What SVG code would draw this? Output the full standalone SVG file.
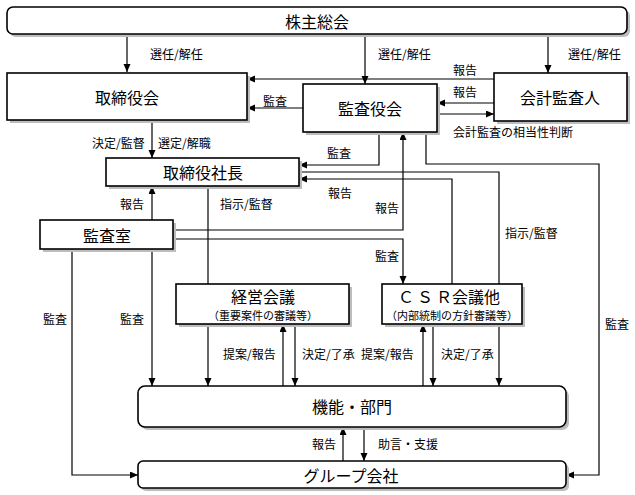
<svg xmlns="http://www.w3.org/2000/svg" width="635" height="495" viewBox="0 0 635 495">
<defs>
<marker id="ah" markerUnits="userSpaceOnUse" markerWidth="9" markerHeight="8" refX="8" refY="3.5" orient="auto">
<path d="M0,0 L8,3.5 L0,7 z" fill="#000"/>
</marker>
<style>
.sh{fill:#bdbdbd;stroke:none}
.bx{fill:#fff;stroke:#000;stroke-width:1.6}
.n{font-family:"Noto Sans CJK JP","Noto Sans",sans-serif;font-size:16px;fill:#000;text-anchor:middle;dominant-baseline:central}
.s{font-family:"Noto Sans CJK JP","Noto Sans",sans-serif;font-size:11px;fill:#000;text-anchor:middle;dominant-baseline:central}
.l{font-family:"Noto Sans CJK JP","Noto Sans",sans-serif;font-size:12px;fill:#000;dominant-baseline:central}
.c{fill:none;stroke:#000;stroke-width:1.2}
.a{marker-end:url(#ah)}
</style>
</defs>
<rect width="635" height="495" fill="#fff"/>

<g id="connectors">
<path class="c a" d="M127,34 V72"/>
<path class="c a" d="M365,34 V84"/>
<path class="c a" d="M548,34 V73"/>
<path class="c a" d="M494,79 H247"/>
<path class="c a" d="M303,108 H247"/>
<path class="c a" d="M494,103 H437"/>
<path class="c a" d="M437,114 H494"/>
<path class="c a" d="M152,120 V158"/>
<path class="c a" d="M379,132 V165 H299"/>
<path class="c a" d="M426,132 V164 H599 V475 H566"/>
<path class="c" d="M208,186 V284"/>
<path class="c" d="M299,172 H499 V284"/>
<path class="c a" d="M452,284 V179 H299"/>
<path class="c a" d="M152,220 V186"/>
<path class="c a" d="M173,230 H403 V132"/>
<path class="c a" d="M173,239 H403 V284"/>
<path class="c a" d="M72,249 V475 H138"/>
<path class="c a" d="M152,249 V386"/>
<path class="c a" d="M208,324 V386"/>
<path class="c a" d="M283,386 V324"/>
<path class="c a" d="M295,324 V386"/>
<path class="c a" d="M423,386 V324"/>
<path class="c a" d="M433,324 V386"/>
<path class="c a" d="M499,324 V386"/>
<path class="c a" d="M343,461 V427"/>
<path class="c a" d="M364,427 V461"/>
</g>

<g id="labels">
<text class="l" x="150" y="53">選任/解任</text>
<text class="l" x="378" y="53">選任/解任</text>
<text class="l" x="568" y="53">選任/解任</text>
<text class="l" x="453" y="69">報告</text>
<text class="l" x="263" y="100">監査</text>
<text class="l" x="453" y="91">報告</text>
<text class="l" x="453" y="131">会計監査の相当性判断</text>
<text class="l" x="92" y="142">決定/監督</text>
<text class="l" x="158" y="142">選定/解職</text>
<text class="l" x="327" y="152">監査</text>
<text class="l" x="328" y="192">報告</text>
<text class="l" x="375" y="207">報告</text>
<text class="l" x="220" y="203">指示/監督</text>
<text class="l" x="120" y="203">報告</text>
<text class="l" x="375" y="255">監査</text>
<text class="l" x="505" y="232">指示/監督</text>
<text class="l" x="43" y="318">監査</text>
<text class="l" x="120" y="318">監査</text>
<text class="l" x="605" y="323">監査</text>
<text class="l" x="223" y="353">提案/報告</text>
<text class="l" x="302" y="353">決定/了承</text>
<text class="l" x="361" y="353">提案/報告</text>
<text class="l" x="441" y="353">決定/了承</text>
<text class="l" x="312" y="443">報告</text>
<text class="l" x="378" y="443">助言・支援</text>
</g>

<g id="shareholders">
<rect class="sh" x="10" y="10" width="620" height="27" rx="6"/>
<rect class="bx" x="7" y="7" width="620" height="27" rx="6"/>
<text class="n" x="317" y="21">株主総会</text>
</g>
<g id="board">
<rect class="sh" x="10" y="76" width="240" height="47"/>
<rect class="bx" x="7" y="73" width="240" height="47"/>
<text class="n" x="127" y="97">取締役会</text>
</g>
<g id="auditors">
<rect class="sh" x="306" y="87" width="134" height="48"/>
<rect class="bx" x="303" y="84" width="134" height="48"/>
<text class="n" x="370" y="108">監査役会</text>
</g>
<g id="accountant">
<rect class="sh" x="497" y="76" width="133" height="48"/>
<rect class="bx" x="494" y="73" width="133" height="48"/>
<text class="n" x="560" y="97">会計監査人</text>
</g>
<g id="president">
<rect class="sh" x="109" y="161" width="193" height="28"/>
<rect class="bx" x="106" y="158" width="193" height="28"/>
<text class="n" x="203" y="172">取締役社長</text>
</g>
<g id="audit-office">
<rect class="sh" x="43" y="223" width="133" height="29"/>
<rect class="bx" x="40" y="220" width="133" height="29"/>
<text class="n" x="107" y="235">監査室</text>
</g>
<g id="management">
<rect class="sh" x="179" y="287" width="173" height="40"/>
<rect class="bx" x="176" y="284" width="173" height="40"/>
<text class="n" x="263" y="296">経営会議</text>
<text class="s" x="263" y="315">（重要案件の審議等）</text>
</g>
<g id="csr">
<rect class="sh" x="385" y="287" width="140" height="40"/>
<rect class="bx" x="382" y="284" width="140" height="40"/>
<text class="n" x="449" y="296"><tspan letter-spacing="3">ＣＳ</tspan>Ｒ会議他</text>
<text class="s" x="452" y="315">（内部統制の方針審議等）</text>
</g>
<g id="departments">
<rect class="sh" x="141" y="389" width="428" height="41" rx="7"/>
<rect class="bx" x="138" y="386" width="428" height="41" rx="7"/>
<text class="n" x="352" y="406">機能・部門</text>
</g>
<g id="group">
<rect class="sh" x="141" y="464" width="428" height="27" rx="5"/>
<rect class="bx" x="138" y="461" width="428" height="27" rx="5"/>
<text class="n" x="351" y="475">グループ会社</text>
</g>
</svg>
